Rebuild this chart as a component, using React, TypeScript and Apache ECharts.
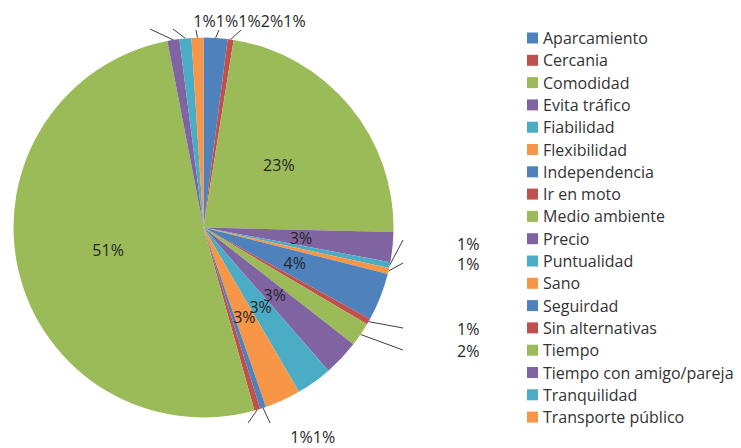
import React, { useEffect, useRef } from "react";
import * as echarts from "echarts";

// Categories (legend order = slice order, clockwise from 12 o'clock)
const categories = [
  "Aparcamiento",
  "Cercania",
  "Comodidad",
  "Evita tráfico",
  "Fiabilidad",
  "Flexibilidad",
  "Independencia",
  "Ir en moto",
  "Medio ambiente",
  "Precio",
  "Puntualidad",
  "Sano",
  "Seguirdad",
  "Sin alternativas",
  "Tiempo",
  "Tiempo con amigo/pareja",
  "Tranquilidad",
  "Transporte público",
];

const responses = [4, 1, 45, 5, 1, 1, 8, 1, 4, 6, 6, 6, 1, 1, 101, 2, 2, 2];

// Excel 2007 palette, cycling
const palette = ["#4F81BD", "#C0504D", "#9BBB59", "#8064A2", "#4BACC6", "#F79646"];

// Slices this small get a callout label outside the pie
const outsideThreshold = 4;

// Callout placement (layout only): text anchor and leader line end
const callouts: Record<string, { x: number; y: number; align: string; end: [number, number] }> = {
  "Tiempo con amigo/pareja": { x: 204.5, y: 21, align: "center", end: [150, 29] },
  "Tranquilidad": { x: 227, y: 21, align: "center", end: [173, 29] },
  "Transporte público": { x: 249.5, y: 21, align: "center", end: [196, 30] },
  "Aparcamiento": { x: 272, y: 21, align: "center", end: [219, 30] },
  "Cercania": { x: 294.5, y: 21, align: "center", end: [241, 30] },
  "Fiabilidad": { x: 457, y: 243.5, align: "left", end: [403, 240] },
  "Flexibilidad": { x: 457, y: 263.5, align: "left", end: [403, 263] },
  "Ir en moto": { x: 457, y: 328.5, align: "left", end: [403, 328] },
  "Medio ambiente": { x: 457, y: 350.5, align: "left", end: [403, 350] },
  "Seguirdad": { x: 301.5, y: 436.5, align: "center", end: [270, 423] },
  "Sin alternativas": { x: 324, y: 436.5, align: "center", end: [248, 423] },
};

const FONT = "'Open Sans', 'Noto Sans', sans-serif";

export default function App() {
  const ref = useRef<HTMLDivElement>(null);

  useEffect(() => {
    if (!ref.current) return;
    const chart = echarts.init(ref.current, null, { renderer: "svg" });

    const data = categories.map((name, i) => {
      const outside = responses[i] <= outsideThreshold;
      return {
        name,
        value: responses[i],
        label: { position: outside ? "outside" : "inside" },
        labelLine: { show: outside },
      };
    });

    chart.setOption({
      animation: false,
      color: palette,
      backgroundColor: "#ffffff",
      legend: {
        orient: "vertical",
        left: 522,
        top: 25,
        itemWidth: 11,
        itemHeight: 11,
        itemGap: 6.3,
        icon: "rect",
        selectedMode: false,
        data: categories,
        textStyle: {
          fontFamily: FONT,
          fontSize: 16,
          color: "#333333",
        },
      },
      series: [
        {
          type: "pie",
          center: [203.5, 227.5],
          radius: 190,
          startAngle: 90,
          clockwise: true,
          avoidLabelOverlap: false,
          silent: true,
          itemStyle: { borderWidth: 0 },
          label: {
            show: true,
            fontFamily: FONT,
            fontSize: 16,
            color: "#262626",
            formatter: (p: any) => Math.round(p.percent) + "%",
          },
          labelLine: {
            length: 12,
            length2: 4,
            lineStyle: { color: "#404040", width: 1 },
          },
          labelLayout: (params: any) => {
            const name = categories[params.dataIndex];
            const c = callouts[name];
            if (!c) return {};
            const pts = params.labelLinePoints;
            const res: any = {
              x: c.x,
              y: c.y,
              align: c.align,
              verticalAlign: "middle",
            };
            if (pts && pts.length) {
              res.labelLinePoints = [pts[0], c.end];
            }
            return res;
          },
          data,
        },
      ],
    });

    return () => chart.dispose();
  }, []);

  return (
    <div
      ref={ref}
      style={{ position: "absolute", left: 0, top: 0, width: 741, height: 448 }}
    />
  );
}
